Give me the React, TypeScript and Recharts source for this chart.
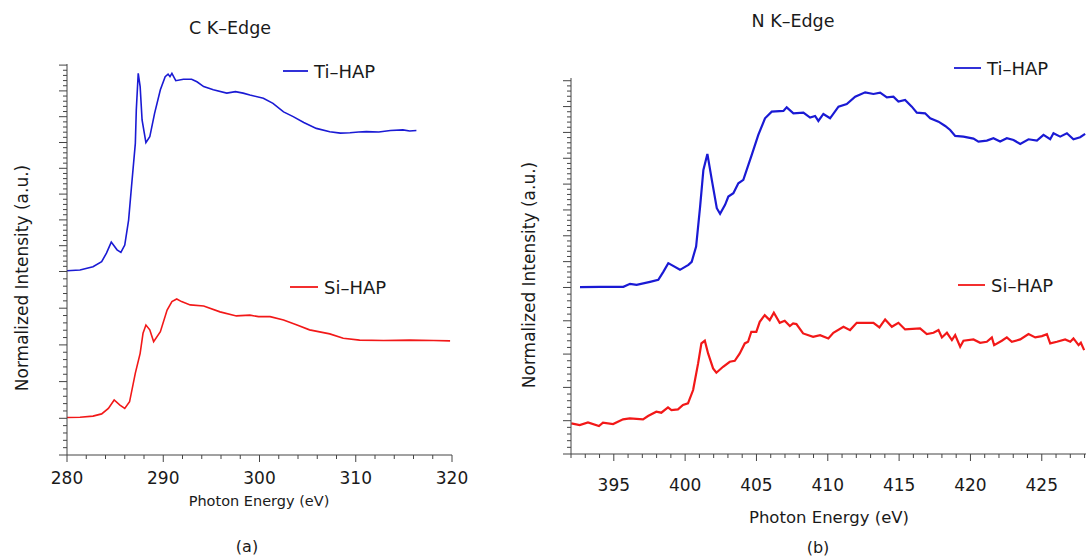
import React from 'react';
import { LineChart, Line, XAxis, YAxis } from 'recharts';

const FONT = '"DejaVu Sans", sans-serif';
const AXIS = '#444';
const TEXT = '#1a1a1a';
const BLUE = '#1a1ad4';
const RED = '#f21818';

// (a) C K-edge
const cTiEnergy = [280, 281.35, 282.7, 283.6, 284.1, 284.6, 285.2, 285.6, 286.0, 286.4, 286.7, 287.1, 287.2, 287.4, 287.6, 287.8, 288.2, 288.6, 289.1, 289.7, 290.2, 290.5, 290.7, 290.9, 291.3, 292.1, 292.95, 293.5, 294.2, 295.2, 296.6, 297.5, 298.3, 299.0, 300.4, 301.4, 302.5, 303.5, 304.6, 305.9, 307.3, 308.4, 309.4, 310.3, 311.1, 312.4, 313.6, 314.9, 315.6, 316.3];
const cTiIntensity = [5.02, 5.04, 5.13, 5.27, 5.5, 5.8, 5.59, 5.52, 5.72, 6.4, 7.31, 8.49, 9.4, 10.4, 10.04, 9.13, 8.51, 8.67, 9.31, 9.95, 10.31, 10.38, 10.31, 10.4, 10.2, 10.24, 10.24, 10.17, 10.04, 9.95, 9.86, 9.9, 9.86, 9.81, 9.72, 9.58, 9.35, 9.22, 9.06, 8.9, 8.81, 8.77, 8.78, 8.8, 8.81, 8.8, 8.84, 8.86, 8.83, 8.84];
const cSiEnergy = [280, 281.35, 282.7, 283.6, 284.3, 284.9, 285.5, 286.0, 286.5, 287.1, 287.6, 287.9, 288.2, 288.6, 289.0, 289.7, 290.4, 290.9, 291.4, 291.9, 292.8, 294.2, 295.9, 297.6, 299.0, 299.9, 301.1, 302.5, 303.9, 305.2, 307.3, 308.7, 310.4, 312.9, 315.6, 318.1, 319.8];
const cSiIntensity = [1.02, 1.03, 1.06, 1.12, 1.27, 1.5, 1.36, 1.27, 1.45, 2.23, 2.77, 3.32, 3.54, 3.41, 3.09, 3.36, 3.95, 4.18, 4.25, 4.18, 4.09, 4.06, 3.9, 3.79, 3.81, 3.77, 3.77, 3.68, 3.54, 3.41, 3.3, 3.18, 3.13, 3.12, 3.13, 3.12, 3.11];
const cEnergyLabels = [280, 290, 300, 310, 320];

// (b) N K-edge
const nTiEnergy = [392.63, 394.03, 395.67, 396.14, 396.6, 397.54, 398.12, 398.47, 398.82, 399.64, 400.23, 400.46, 400.77, 401.05, 401.28, 401.56, 401.87, 402.22, 402.45, 402.8, 403.03, 403.38, 403.73, 404.08, 404.67, 405.13, 405.6, 406.07, 406.89, 407.12, 407.59, 408.29, 408.76, 409.11, 409.34, 409.69, 410.16, 410.75, 411.33, 411.92, 412.62, 413.2, 413.67, 414.14, 414.6, 414.95, 415.42, 415.89, 416.24, 416.82, 417.18, 417.76, 418.23, 418.58, 418.93, 419.51, 420.21, 420.56, 421.15, 421.61, 422.08, 422.55, 423.02, 423.49, 424.07, 424.66, 425.12, 425.59, 425.82, 426.29, 426.76, 427.22, 427.69, 428.04];
const nTiIntensity = [5.01, 5.02, 5.02, 5.11, 5.08, 5.17, 5.23, 5.47, 5.73, 5.53, 5.68, 5.77, 6.23, 7.43, 8.53, 9.01, 8.23, 7.38, 7.21, 7.48, 7.73, 7.83, 8.13, 8.23, 8.98, 9.58, 10.08, 10.28, 10.3, 10.41, 10.23, 10.25, 10.1, 10.15, 10.0, 10.21, 10.08, 10.43, 10.51, 10.73, 10.86, 10.81, 10.85, 10.71, 10.73, 10.58, 10.63, 10.43, 10.25, 10.23, 10.08, 9.98, 9.85, 9.73, 9.55, 9.53, 9.47, 9.38, 9.41, 9.48, 9.38, 9.48, 9.43, 9.31, 9.45, 9.41, 9.58, 9.45, 9.63, 9.53, 9.63, 9.45, 9.51, 9.61];
const nSiEnergy = [392.02, 392.61, 393.19, 393.96, 394.24, 394.95, 395.65, 396.12, 397.05, 397.4, 397.98, 398.33, 398.8, 399.04, 399.5, 399.85, 400.2, 400.56, 400.91, 401.14, 401.38, 401.61, 401.96, 402.19, 402.66, 403.13, 403.48, 403.83, 404.18, 404.41, 404.64, 404.99, 405.23, 405.58, 405.93, 406.22, 406.63, 406.98, 407.34, 407.57, 407.8, 408.27, 408.97, 409.46, 410.04, 410.39, 411.1, 411.56, 412.03, 413.2, 413.62, 414.02, 414.49, 414.95, 415.42, 416.47, 416.94, 417.41, 417.76, 418.0, 418.35, 418.7, 418.93, 419.28, 419.51, 420.21, 420.68, 421.15, 421.5, 421.66, 422.2, 422.55, 422.9, 423.49, 424.07, 424.54, 425.01, 425.36, 425.59, 426.06, 426.64, 427.0, 427.22, 427.58, 427.74, 427.97];
const nSiIntensity = [0.92, 0.87, 0.95, 0.84, 0.94, 0.9, 1.04, 1.07, 1.04, 1.14, 1.27, 1.24, 1.4, 1.32, 1.34, 1.47, 1.52, 1.92, 2.72, 3.32, 3.4, 3.02, 2.57, 2.44, 2.62, 2.77, 2.8, 3.02, 3.32, 3.37, 3.67, 3.67, 3.97, 4.17, 4.02, 4.24, 3.94, 4.0, 3.84, 3.92, 3.9, 3.62, 3.52, 3.57, 3.47, 3.64, 3.82, 3.72, 3.94, 3.94, 3.8, 4.04, 3.82, 3.94, 3.74, 3.77, 3.6, 3.64, 3.72, 3.5, 3.64, 3.42, 3.57, 3.22, 3.4, 3.44, 3.34, 3.37, 3.5, 3.27, 3.4, 3.5, 3.37, 3.44, 3.6, 3.5, 3.54, 3.6, 3.32, 3.37, 3.44, 3.37, 3.47, 3.27, 3.34, 3.12];
const nEnergyLabels = [395, 400, 405, 410, 415, 420, 425];

const zip = (xs: number[], ys: number[]) => xs.map((e, i) => ({ e, v: ys[i] }));

const range = (from: number, to: number, step: number) => {
  const out: number[] = [];
  for (let v = from; v <= to + 1e-9; v += step) out.push(Math.round(v * 1000) / 1000);
  return out;
};

// unlabelled intensity axis: 5 even majors below the Ti baseline, tighter ones above
function intensityTicks(highStep: number, highCount: number) {
  const majors: number[] = [];
  const all: number[] = [];
  for (let i = 0; i < 5; i++) {
    majors.push(i);
    for (let j = 0; j < 5; j++) all.push(i + j * 0.2);
  }
  for (let k = 0; k < highCount; k++) {
    const b = 5 + k * highStep;
    majors.push(b);
    for (let j = 0; j < 5; j++) all.push(b + (j * highStep) / 5);
  }
  const top = 5 + highCount * highStep;
  majors.push(top);
  all.push(top);
  return { majors, all };
}

const cY = intensityTicks(0.703, 8);
const nY = intensityTicks(0.776, 8);

const YTick = (props: any) => {
  const { x, y, payload, majors } = props;
  const major = majors.some((m: number) => Math.abs(m - payload.value) < 1e-6);
  return <line x1={x} x2={x - (major ? 8 : 4)} y1={y} y2={y} stroke={AXIS} strokeWidth={1} />;
};

const XTick = (props: any) => {
  const { x, y, payload, labels, offset } = props;
  const lab = labels.includes(payload.value);
  return (
    <g>
      <line x1={x} x2={x} y1={y} y2={y + (lab ? 7 : 4)} stroke={AXIS} strokeWidth={1} />
      {lab && (
        <text x={x} y={y + offset} textAnchor="middle" dominantBaseline="central" fontFamily={FONT} fontSize={17} fill={TEXT}>
          {payload.value}
        </text>
      )}
    </g>
  );
};

interface PanelProps {
  left: number;
  width: number;
  margin: { top: number; right: number; bottom: number; left: number };
  xDomain: [number, number];
  xTicks: number[];
  xLabels: number[];
  labelOffset: number;
  yMax: number;
  yTicks: { majors: number[]; all: number[] };
  ti: { e: number; v: number }[];
  si: { e: number; v: number }[];
  stroke: number;
}

function Panel(p: PanelProps) {
  return (
    <div style={{ position: 'absolute', left: p.left, top: 0 }}>
      <LineChart width={p.width} height={558} margin={p.margin}>
        <XAxis
          type="number"
          dataKey="e"
          domain={p.xDomain}
          ticks={p.xTicks}
          interval={0}
          height={1}
          tickSize={0}
          tickMargin={0}
          tickLine={false}
          allowDataOverflow
          axisLine={{ stroke: AXIS }}
          tick={(t: any) => <XTick {...t} labels={p.xLabels} offset={p.labelOffset} />}
        />
        <YAxis
          type="number"
          domain={[0, p.yMax]}
          ticks={p.yTicks.all}
          interval={0}
          width={1}
          tickSize={0}
          tickMargin={0}
          tickLine={false}
          allowDataOverflow
          axisLine={{ stroke: AXIS }}
          tick={(t: any) => <YTick {...t} majors={p.yTicks.majors} />}
        />
        <Line data={p.ti} dataKey="v" type="linear" stroke={BLUE} strokeWidth={p.stroke} dot={false} isAnimationActive={false} />
        <Line data={p.si} dataKey="v" type="linear" stroke={RED} strokeWidth={p.stroke} dot={false} isAnimationActive={false} />
      </LineChart>
    </div>
  );
}

const LegendItem = ({ x1, x2, y, color, label }: { x1: number; x2: number; y: number; color: string; label: string }) => (
  <g>
    <line x1={x1} x2={x2} y1={y} y2={y} stroke={color} strokeWidth={1.8} />
    <text x={x2 + 6} y={y} dominantBaseline="central" fontFamily={FONT} fontSize={18} fill={TEXT}>
      {label}
    </text>
  </g>
);

export default function App() {
  return (
    <div style={{ position: 'absolute', left: 0, top: 0, width: 1086, height: 558, background: '#fff', overflow: 'hidden' }}>
      <Panel
        left={0}
        width={470}
        margin={{ top: 64, right: 18, bottom: 102, left: 66 }}
        xDomain={[280, 320]}
        xTicks={range(280, 320, 2)}
        xLabels={cEnergyLabels}
        labelOffset={23}
        yMax={10.654}
        yTicks={cY}
        ti={zip(cTiEnergy, cTiIntensity)}
        si={zip(cSiEnergy, cSiIntensity)}
        stroke={1.6}
      />
      <Panel
        left={480}
        width={606}
        margin={{ top: 78, right: 0, bottom: 103, left: 90 }}
        xDomain={[392, 428.1]}
        xTicks={range(392, 428, 1)}
        xLabels={nEnergyLabels}
        labelOffset={31}
        yMax={11.29}
        yTicks={nY}
        ti={zip(nTiEnergy, nTiIntensity)}
        si={zip(nSiEnergy, nSiIntensity)}
        stroke={2.2}
      />
      <svg width={1086} height={558} style={{ position: 'absolute', left: 0, top: 0, pointerEvents: 'none' }}>
        <text x={230} y={28} textAnchor="middle" dominantBaseline="central" fontFamily={FONT} fontSize={17.5} fill={TEXT}>
          C K–Edge
        </text>
        <text x={793} y={21} textAnchor="middle" dominantBaseline="central" fontFamily={FONT} fontSize={17.5} fill={TEXT}>
          N K–Edge
        </text>
        <text transform="translate(22,278) rotate(-90)" textAnchor="middle" dominantBaseline="central" fontFamily={FONT} fontSize={17} fill={TEXT}>
          Normalized Intensity (a.u.)
        </text>
        <text transform="translate(529,275) rotate(-90)" textAnchor="middle" dominantBaseline="central" fontFamily={FONT} fontSize={17} fill={TEXT}>
          Normalized Intensity (a.u.)
        </text>
        <text x={259} y={501} textAnchor="middle" dominantBaseline="central" fontFamily={FONT} fontSize={14.5} fill={TEXT}>
          Photon Energy (eV)
        </text>
        <text x={829} y={517} textAnchor="middle" dominantBaseline="central" fontFamily={FONT} fontSize={16.5} fill={TEXT}>
          Photon Energy (eV)
        </text>
        <text x={247} y={546} textAnchor="middle" dominantBaseline="central" fontFamily={FONT} fontSize={16} fill={TEXT}>
          (a)
        </text>
        <text x={818} y={547} textAnchor="middle" dominantBaseline="central" fontFamily={FONT} fontSize={16} fill={TEXT}>
          (b)
        </text>
        <LegendItem x1={283} x2={308} y={71} color={BLUE} label="Ti–HAP" />
        <LegendItem x1={290} x2={318} y={287} color={RED} label="Si–HAP" />
        <LegendItem x1={954} x2={981} y={68} color={BLUE} label="Ti–HAP" />
        <LegendItem x1={958} x2={985} y={285} color={RED} label="Si–HAP" />
      </svg>
    </div>
  );
}
